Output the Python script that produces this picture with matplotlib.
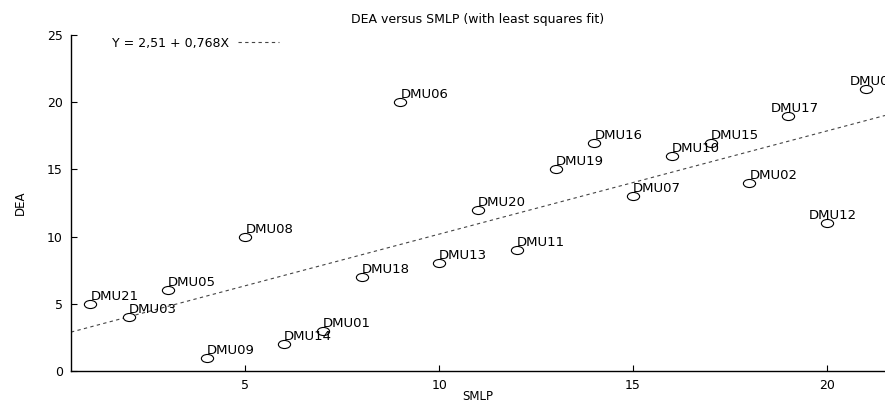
import numpy as np
import matplotlib
matplotlib.use('Agg')
import matplotlib.pyplot as plt
from matplotlib.path import Path
from matplotlib.transforms import Affine2D

# DMU scores
dmu_names = ['DMU01', 'DMU02', 'DMU03', 'DMU04', 'DMU05', 'DMU06', 'DMU07',
             'DMU08', 'DMU09', 'DMU10', 'DMU11', 'DMU12', 'DMU13', 'DMU14',
             'DMU15', 'DMU16', 'DMU17', 'DMU18', 'DMU19', 'DMU20', 'DMU21']
smlp = [7, 18, 2, 21, 3, 9, 15, 5, 4, 16, 12, 20, 10, 6, 17, 14, 19, 8, 13, 11, 1]
dea = [3, 14, 4, 21, 6, 20, 13, 10, 1, 16, 9, 11, 8, 2, 17, 17, 19, 7, 15, 12, 5]

x_ticks = [5, 10, 15, 20]
y_ticks = [0, 5, 10, 15, 20, 25]

# labels near the right edge are shifted left (pixels)
shift_left = {'DMU17': -17, 'DMU12': -18, 'DMU04': -16}

plt.rcParams['font.family'] = 'DejaVu Sans'

# least squares fit
slope, intercept = np.polyfit(smlp, dea, 1)
fit_label = f'Y = {intercept:.2f} + {slope:.3f}X'.replace('.', ',')

fig = plt.figure(figsize=(8.85, 4.03), dpi=100)
ax = fig.add_axes([71 / 885, 32 / 403, 814 / 885, 336 / 403])

# slightly flattened open circle
ellipse = Path.unit_circle().transformed(Affine2D().scale(1.0, 0.66))

ax.plot(smlp, dea, linestyle='none', marker=ellipse, markersize=8.8,
        markerfacecolor='white', markeredgecolor='black', markeredgewidth=0.8,
        zorder=3)

xs = np.array([0.5, 21.5])
ax.plot(xs, intercept + slope * xs, linestyle=(0, (3, 3)), color='#444444',
        linewidth=0.8, label=fit_label, zorder=2)

for name, x, y in zip(dmu_names, smlp, dea):
    ax.annotate(name, (x, y), xytext=(shift_left.get(name, 0), 4),
                textcoords='offset pixels', ha='left', va='baseline',
                fontsize=9.5, annotation_clip=False)

ax.set_xlim(0.5, 21.5)
ax.set_ylim(0, 25)
ax.set_xticks(x_ticks)
ax.set_yticks(y_ticks)
ax.tick_params(direction='in', length=4, width=0.8, labelsize=9, pad=6)
ax.spines['top'].set_visible(False)
ax.spines['right'].set_visible(False)
ax.spines['left'].set_linewidth(1.0)
ax.spines['bottom'].set_linewidth(1.0)

ax.set_xlabel('SMLP', fontsize=8.5)
ax.set_ylabel('DEA', fontsize=8.5)
ax.xaxis.set_label_coords(0.5, -0.077)
ax.xaxis.label.set_va('center')
ax.yaxis.set_label_coords(-0.0627, 0.5)
ax.yaxis.label.set_va('center')

fig.text(478 / 885, 1 - 19 / 403, 'DEA versus SMLP (with least squares fit)',
         ha='center', va='center', fontsize=9)

ax.legend(loc='upper left', bbox_to_anchor=(0.044, 1.01), frameon=False,
          markerfirst=False, fontsize=9, handlelength=3.3, handletextpad=0.7,
          borderaxespad=0)

fig.savefig('out.png', dpi=100)
